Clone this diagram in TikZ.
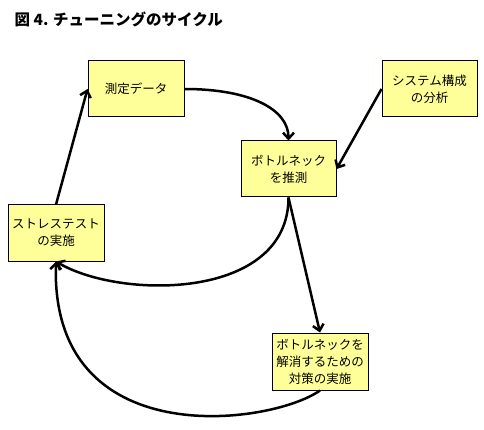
\documentclass[tikz,border=0pt]{standalone}
\usepackage{fontspec}
\newfontfamily\jp{Noto Sans CJK JP}
\usetikzlibrary{arrows.meta}
\definecolor{boxfill}{RGB}{255,255,153}
\begin{document}
\begin{tikzpicture}[x=1pt,y=-1pt,
  box/.style={draw=black,line width=1pt,fill=boxfill,minimum width=96pt,minimum height=56pt,
    inner sep=0pt,align=center,font=\jp\fontsize{12.5}{17}\selectfont},
  arr/.style={line width=2.5pt,-{Straight Barb[length=6pt,width=11pt]}}]
\useasboundingbox (0,0) rectangle (484,430);
\node[anchor=west,font=\jp\bfseries\fontsize{15.5}{18}\selectfont] (title) at (11,19) {図 4. チューニングのサイクル};
\node[box] (sokutei) at (136,89) {測定データ};
\node[box,minimum width=95pt] (bunseki) at (429.5,89) {システム構成\\の分析};
\node[box,minimum width=95pt] (suisoku) at (288.5,169) {ボトルネック\\を推測};
\node[box] (stress) at (56,233) {ストレステスト\\の実施};
\node[box,minimum height=57pt] (kaisho) at (320,361.5) {ボトルネックを\\解消するための\\対策の実施};
\draw[arr] (sokutei.east) .. controls +(66,0) and +(0,-31) .. (suisoku.north);
\draw[arr] (bunseki.west) -- (suisoku.east);
\draw[arr] (suisoku.south) -- (kaisho.north);
\draw[arr] (suisoku.south) .. controls +(0,103) and +(64,38) .. (stress.south);
\draw[arr] (kaisho.south) .. controls +(-50,35) and +(-6,193) .. (stress.south);
\draw[arr] (stress.north) -- (sokutei.west);
\end{tikzpicture}
\end{document}
